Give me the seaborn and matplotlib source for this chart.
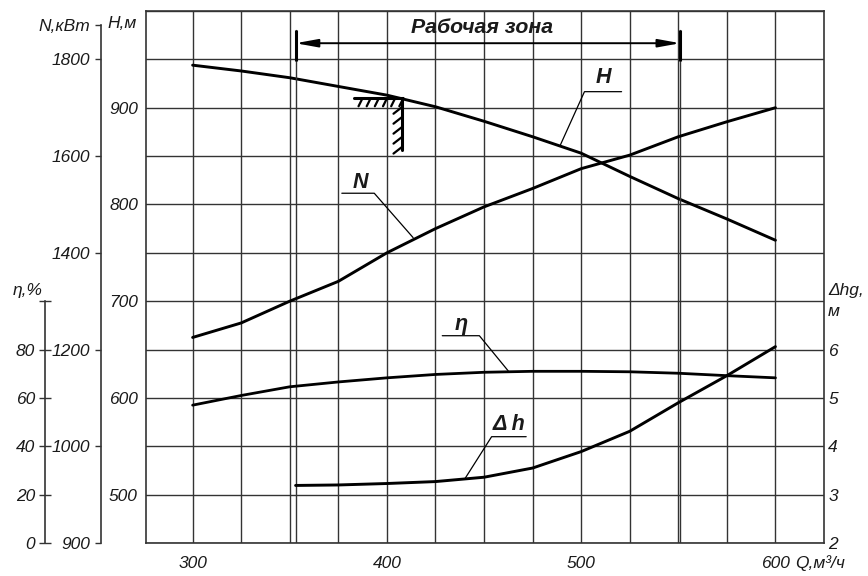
import numpy as np
from matplotlib import pyplot as plt
import seaborn as sns

# ---- data ----
Q = [300, 325, 350, 375, 400, 425, 450, 475, 500, 525, 550, 575, 600]
H = [944, 938, 931, 922, 913, 901, 886, 870, 853, 829, 806, 785, 763]
N = [1225, 1255, 1300, 1341, 1400, 1450, 1495, 1533, 1574, 1602, 1640, 1671, 1700]
eta = [57, 61, 64.6, 66.6, 68.3, 69.7, 70.6, 71, 71, 70.8, 70.2, 69.2, 68.3]
Q_dh = [353, 375, 400, 425, 450, 475, 500, 525, 550, 575, 600]
dh = [3.19, 3.2, 3.23, 3.27, 3.36, 3.55, 3.89, 4.31, 4.9, 5.46, 6.06]

zone = [353, 551]           # working zone boundaries, m3/h
nominal = (408, 910)        # hatched mark on the H curve

x_ticks = [300, 400, 500, 600]
H_ticks = [500, 600, 700, 800, 900]
N_ticks = [800, 1000, 1200, 1400, 1600, 1800, 1871]
N_labels = ['900', '1000', '1200', '1400', '1600', '1800', 'N,кВт']
eta_ticks = [0, 20, 40, 60, 80, 100]
eta_labels = ['0', '20', '40', '60', '80', '']
dh_ticks = [2, 3, 4, 5, 6]

sns.set_style('white')
plt.rcParams['font.family'] = ['Liberation Sans', 'DejaVu Sans']
plt.rcParams['font.style'] = 'italic'

W, Hpx = 868, 576
fig = plt.figure(figsize=(W / 100, Hpx / 100), dpi=100)
ax = fig.add_axes([146 / W, 33 / Hpx, 678 / W, 532 / Hpx])
grid_c = '#333333'
txt_c = '#1a1a1a'
fs = 12.5

ax.set_xlim(276, 625)
ax.set_ylim(450, 1000)
ax.set_xticks(x_ticks)
ax.set_xticks(np.arange(325, 600, 25), minor=True)
ax.set_yticks(H_ticks)
ax.set_yticks(np.arange(450, 1001, 50), minor=True)
ax.grid(True, which='both', color=grid_c, lw=1.0)
ax.tick_params(axis='x', which='major', direction='out', length=4, width=1,
               color=grid_c, pad=5, labelsize=fs, labelcolor=txt_c)
ax.tick_params(axis='x', which='minor', length=0)
ax.tick_params(axis='y', which='both', length=0, pad=5.8, labelsize=fs,
               labelcolor=txt_c)
for s in ax.spines.values():
    s.set_color(grid_c)
    s.set_linewidth(1.2)

sns.lineplot(x=Q, y=H, ax=ax, color='black', lw=2.1)

# N axis
ax_n = ax.twinx()
ax_n.yaxis.set_ticks_position('left')
ax_n.spines['left'].set_position(('axes', (100.7 - 146) / 678))
for k in ['top', 'bottom', 'right']:
    ax_n.spines[k].set_visible(False)
ax_n.spines['left'].set_color(grid_c)
ax_n.spines['left'].set_linewidth(1.2)
ax_n.set_ylim(800, 1900)
ax_n.spines['left'].set_bounds(800, 1871)
ax_n.set_yticks(N_ticks)
ax_n.set_yticklabels(N_labels)
ax_n.tick_params(axis='y', direction='out', length=4.3, width=1, color=grid_c,
                 pad=3.4, labelsize=fs, labelcolor=txt_c)
sns.lineplot(x=Q, y=N, ax=ax_n, color='black', lw=2.1)

# eta axis
ax_e = ax.twinx()
ax_e.yaxis.set_ticks_position('left')
ax_e.spines['left'].set_position(('axes', (45 - 146) / 678))
for k in ['top', 'bottom', 'right']:
    ax_e.spines[k].set_visible(False)
ax_e.spines['left'].set_color(grid_c)
ax_e.spines['left'].set_linewidth(1.2)
ax_e.set_ylim(0, 220)
ax_e.spines['left'].set_bounds(0, 100)
ax_e.set_yticks(eta_ticks)
ax_e.set_yticklabels(eta_labels)
ax_e.tick_params(axis='y', direction='inout', length=8, width=1, color=grid_c,
                 pad=3.2, labelsize=fs, labelcolor=txt_c)
sns.lineplot(x=Q, y=eta, ax=ax_e, color='black', lw=2.0)

# delta h axis
ax_d = ax.twinx()
for k in ['top', 'bottom', 'left', 'right']:
    ax_d.spines[k].set_visible(False)
ax_d.set_ylim(2, 13)
ax_d.set_yticks(dh_ticks)
ax_d.tick_params(axis='y', length=0, pad=3, labelsize=fs, labelcolor=txt_c)
sns.lineplot(x=Q_dh, y=dh, ax=ax_d, color='black', lw=2.1)

for a in [ax_n, ax_e, ax_d]:
    a.set_ylabel('')
    a.set_xlim(276, 625)

# working zone
for q in zone:
    ax.plot([q, q], [450, 980], color=grid_c, lw=1.0, zorder=3)
    ax.plot([q, q], [948.6, 980.4], color='black', lw=2.2, zorder=4,
            solid_capstyle='butt')
ax.annotate('', xy=(zone[0], 966.7), xytext=(zone[1], 966.7),
            arrowprops=dict(arrowstyle='<|-|>,head_length=1.1,head_width=0.2',
                            color='black', lw=1.4, mutation_scale=12,
                            shrinkA=0, shrinkB=0), zorder=5)
ax.text(449.2, 982.5, 'Рабочая зона', ha='center', va='center', fontsize=15.3,
        fontweight='bold', color=txt_c)

# hatched nominal mark
qn, hn = nominal
ax.plot([383.3, qn, qn], [hn, hn, 856], color='black', lw=2.2, zorder=4,
        solid_joinstyle='miter')
for q in np.arange(387.5, qn + 1, 4.2):
    ax.plot([q, q - 2.1], [hn, hn - 8.5], color='black', lw=1.6, zorder=4)
for h in np.arange(hn - 9, 858, -10.3):
    ax.plot([qn, qn - 4.6], [h, h - 7.2], color='black', lw=1.6, zorder=4)

# curve labels with leaders
lead = dict(color='black', lw=0.9, zorder=5)
lab = dict(ha='center', va='center', fontsize=15.5, fontweight='bold',
           color=txt_c)
ax.plot([520.8, 501.7, 489.3], [916.6, 916.6, 861.5], **lead)
ax.text(511.4, 930.8, 'H', **lab)
ax.plot([376.8, 393.5, 413.5], [811.6, 811.6, 765.7], **lead)
ax.text(386.2, 822.5, 'N', **lab)
ax.plot([428.5, 447.6, 462.5], [664.3, 664.3, 627.8], **lead)
ax.text(438.2, 675.4, 'η', **lab)
ax.plot([471.7, 453.9, 440.3], [559.9, 559.9, 516.9], **lead)
ax.text(462.8, 573, 'Δ h', **lab)

# axis titles
def ftext(x, y, s, **kw):
    fig.text(x / W, 1 - y / Hpx, s, fontsize=fs, color=txt_c, **kw)

ftext(122, 23, 'H,м', ha='center', va='center')
ftext(28, 291, 'η,%', ha='center', va='center')
ftext(828, 291, 'Δhg,', ha='left', va='center')
ftext(828, 312, 'м', ha='left', va='center')
ftext(795, 563, 'Q,м³/ч', ha='left', va='center')

fig.savefig('out.png', dpi=100)
